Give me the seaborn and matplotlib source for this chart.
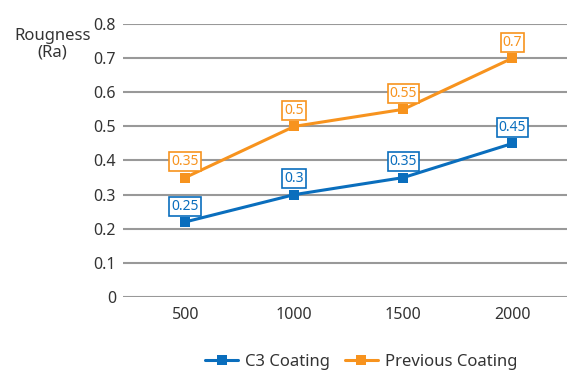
import numpy as np
import pandas as pd
import matplotlib
matplotlib.use("Agg")
import matplotlib.pyplot as plt
import seaborn as sns

grit = ["500", "1000", "1500", "2000"]
c3_values = [0.22, 0.30, 0.35, 0.45]
c3_labels = ["0.25", "0.3", "0.35", "0.45"]
prev_values = [0.35, 0.50, 0.55, 0.70]
prev_labels = ["0.35", "0.5", "0.55", "0.7"]

blue = "#0a6ebd"
orange = "#f7931e"

sns.set_style("white")
plt.rcParams['font.family'] = ['Noto Sans', 'DejaVu Sans']

df = pd.DataFrame({
    "grit": grit * 2,
    "Ra": c3_values + prev_values,
    "series": ["C3 Coating"] * 4 + ["Previous Coating"] * 4,
})

fig = plt.figure(figsize=(5.67, 3.72), dpi=100)
ax = fig.add_axes([0.217, 0.2016, 0.783, 0.7339])

sns.lineplot(data=df, x="grit", y="Ra", hue="series", palette=[blue, orange],
             marker="s", markersize=7, markeredgewidth=0, linewidth=2.2,
             sort=False, ax=ax)

# value labels in outlined boxes above each point
for vals, labs, col in [(c3_values, c3_labels, blue), (prev_values, prev_labels, orange)]:
    for i, (v, lab) in enumerate(zip(vals, labs)):
        ax.annotate(lab, (i, v), xytext=(0, 6), textcoords="offset points",
                    ha="center", va="bottom", fontsize=10, color=col,
                    bbox=dict(boxstyle="square,pad=0.15", fc="white", ec=col, lw=1.2))

ax.set_ylim(0, 0.8)
ax.set_xlim(-0.57, 3.5)
ax.set_yticks(np.arange(0, 0.81, 0.1))
ax.set_yticklabels(["0", "0.1", "0.2", "0.3", "0.4", "0.5", "0.6", "0.7", "0.8"])
ax.yaxis.grid(True, color="#999999", linewidth=1.5)
ax.set_axisbelow(True)
for s in ax.spines.values():
    s.set_visible(False)
ax.tick_params(axis="both", length=0, labelsize=11.5, colors="#333333", pad=5)
ax.tick_params(axis="x", pad=7)
ax.set_xlabel("")
ax.set_ylabel("")
fig.text(0.092, 0.882, "Rougness\n(Ra)", ha="center", va="center",
         fontsize=12, color="#333333", linespacing=1.05)

ax.legend(loc="center", bbox_to_anchor=(0.536, -0.238),
          ncol=2, frameon=False, fontsize=12, handlelength=2.0,
          columnspacing=0.9, handletextpad=0.4)
leg = ax.get_legend()
for t in leg.get_texts():
    t.set_color("#333333")

fig.savefig("out.png", dpi=100)
